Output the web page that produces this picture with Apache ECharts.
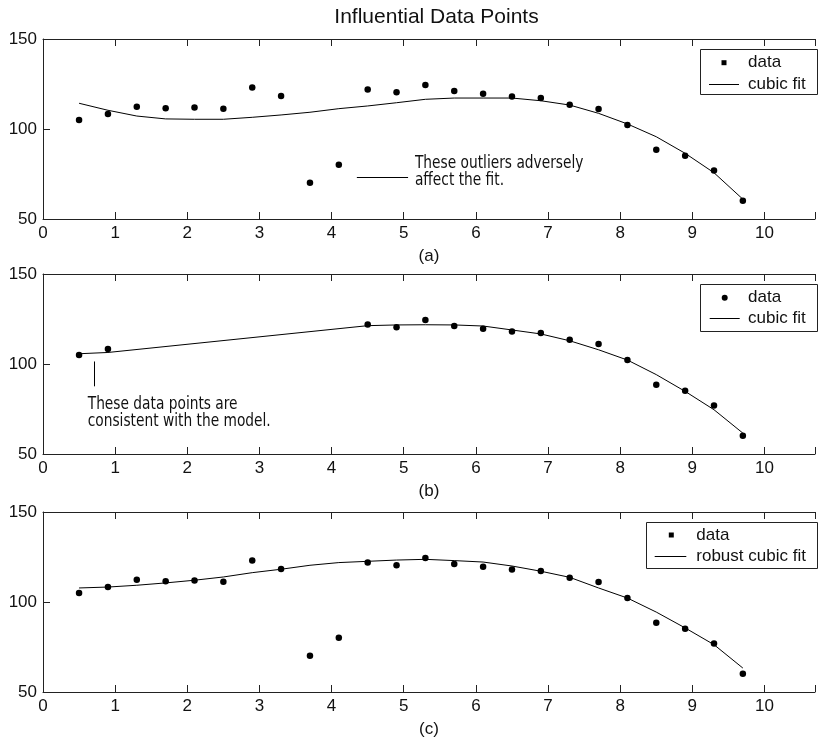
<!DOCTYPE html>
<html><head><meta charset="utf-8">
<script src="https://cdn.jsdelivr.net/npm/echarts@6/dist/echarts.min.js"></script>
<style>html,body{margin:0;padding:0;background:#fff}#c{width:818px;height:741px}</style>
</head><body><div id="c"></div>
<script>
// ---- data ----
const xAll = [0.5,0.9,1.3,1.7,2.1,2.5,2.9,3.3,3.7,4.1,4.5,4.9,5.3,5.7,6.1,6.5,6.9,7.3,7.7,8.1,8.5,8.9,9.3,9.7];
const yAll = [105,108.3,112.4,111.5,112,111.3,123,118.3,70.2,80.2,122,120.4,124.4,121.1,119.6,118.1,117.2,113.5,111.1,102.2,88.5,85.2,76.9,60.2];
const fitA = [114.3,110.4,107.2,105.6,105.4,105.4,106.5,107.8,109.3,111.3,112.8,114.6,116.5,117.2,117.2,117.2,115.7,113.3,108.7,102.8,95.7,86.5,75.7,61];
const xB = [0.5,0.9,4.5,4.9,5.3,5.7,6.1,6.5,6.9,7.3,7.7,8.1,8.5,8.9,9.3,9.7];
const yB = [105,108.3,122,120.4,124.4,121.1,119.6,118.1,117.2,113.5,111.1,102.2,88.5,85.2,76.9,60.2];
const fitB = [105.7,106.4,121.3,121.7,121.8,121.7,121.1,118.9,116.7,112.9,107.9,102.2,94.1,84.8,74.6,61.6];
const fitC = [107.8,108.3,109.3,110.6,112.1,113.9,116.3,118.2,120.4,121.9,122.6,123.3,123.7,123,122.2,120,117.1,113.7,107.8,102.2,94.4,85.6,76.3,63.3];
const panelLabels = ['(a)','(b)','(c)'];
const legendTexts = [['data','cubic fit'],['data','cubic fit'],['data','robust cubic fit']];
const titleText = 'Influential Data Points';
const noteA = ['These outliers adversely','affect the fit.'];
const noteB = ['These data points are','consistent with the model.'];
const xMin = 0, xMax = 10.7, yMin = 50, yMax = 150;

const zip = (xs, ys) => xs.map((x, i) => [x, ys[i]]);
const FONT = "'Liberation Sans', Arial, sans-serif";
const NARROW = "'Liberation Sans Narrow', 'DejaVu Sans Condensed', 'Roboto Condensed', sans-serif";
const AX = '#222';
const tops = [39, 274, 512];

const grids = tops.map(t => ({left: 43, right: -9, top: t, height: 180, containLabel: false}));
const xAxes = [], yAxes = [];
tops.forEach((t, i) => {
  xAxes.push({
    gridIndex: i, type: 'value', position: 'bottom', min: xMin, max: xMax, interval: 1,
    axisLine: {show: true, onZero: false, lineStyle: {color: AX, width: 1}},
    axisTick: {show: true, inside: true, length: 7, lineStyle: {color: AX}},
    axisLabel: {show: true, margin: 6, fontSize: 17, color: '#111', fontFamily: FONT,
      formatter: v => Math.abs(v - Math.round(v)) < 1e-6 && v <= 10 ? String(Math.round(v)) : ''},
    splitLine: {show: false},
    name: panelLabels[i], nameLocation: 'middle', nameGap: 29,
    nameTextStyle: {fontSize: 17, color: '#111', fontFamily: FONT}
  });
  xAxes.push({
    gridIndex: i, type: 'value', position: 'top', min: xMin, max: xMax, interval: 1,
    axisLine: {show: true, onZero: false, lineStyle: {color: AX, width: 1}},
    axisTick: {show: true, inside: true, length: 7, lineStyle: {color: AX}},
    axisLabel: {show: false}, splitLine: {show: false}
  });
  yAxes.push({
    gridIndex: i, type: 'value', min: yMin, max: yMax, interval: 50,
    axisLine: {show: true, onZero: false, lineStyle: {color: AX, width: 1}},
    axisTick: {show: true, inside: true, length: 7, lineStyle: {color: AX}},
    axisLabel: {show: true, margin: 6, fontSize: 17, color: '#111', fontFamily: FONT},
    splitLine: {show: false}
  });
});

const scat = (xi, yi, data) => ({type: 'scatter', xAxisIndex: xi, yAxisIndex: yi, data,
  symbol: 'circle', symbolSize: 6.5, itemStyle: {color: '#000', opacity: 1}, silent: true, z: 3});
const line = (xi, yi, data) => ({type: 'line', xAxisIndex: xi, yAxisIndex: yi, data,
  symbol: 'none', lineStyle: {color: '#000', width: 1}, silent: true, z: 2});

const series = [
  scat(0, 0, zip(xAll, yAll)), line(0, 0, zip(xAll, fitA)),
  scat(2, 1, zip(xB, yB)), line(2, 1, zip(xB, fitB)),
  scat(4, 2, zip(xAll, yAll)), line(4, 2, zip(xAll, fitC))
];

const chart = echarts.init(document.getElementById('c'), null, {renderer: 'canvas'});
chart.setOption({animation: false, backgroundColor: '#fff', grid: grids, xAxis: xAxes, yAxis: yAxes, series});

// ---- graphics: title, legends, annotations ----
const g = [];
const txt = (text, x, y, font, align, sx) => ({type: 'text', silent: true, x, y, scaleX: sx || 1,
  style: {text, x: 0, y: 0, font, fill: '#111', align: align || 'left', verticalAlign: 'middle',
    textAlign: align || 'left', textVerticalAlign: 'middle'}});
g.push(txt(titleText, 436.5, 17, "21px " + FONT, 'center'));

// legends (positions in px)
const legends = [
  {x: 700, y: 49, w: 117, h: 45, mx: 724, tx: 748, r1: 62.7, r2: 84.3, lx1: 709, lx2: 739, sq: true},
  {x: 700, y: 284, w: 117, h: 47, mx: 724.7, tx: 748, r1: 297.7, r2: 318.3, lx1: 709.7, lx2: 739.7, sq: false},
  {x: 646, y: 522, w: 171, h: 46, mx: 671.3, tx: 696.3, r1: 535, r2: 556, lx1: 654.7, lx2: 686.3, sq: true}
];
legends.forEach((L, i) => {
  g.push({type: 'rect', silent: true, shape: {x: L.x + 0.5, y: L.y + 0.5, width: L.w, height: L.h},
    style: {fill: '#fff', stroke: AX, lineWidth: 1}});
  if (L.sq) g.push({type: 'rect', silent: true, shape: {x: L.mx - 2.5, y: L.r1 - 2.5, width: 5, height: 5}, style: {fill: '#000'}});
  else g.push({type: 'circle', silent: true, shape: {cx: L.mx, cy: L.r1, r: 3}, style: {fill: '#000'}});
  g.push(txt(legendTexts[i][0], L.tx, L.r1, "17px " + FONT));
  g.push({type: 'line', silent: true, shape: {x1: L.lx1, y1: Math.round(L.r2) + 0.5, x2: L.lx2, y2: Math.round(L.r2) + 0.5},
    style: {stroke: '#000', lineWidth: 1}});
  g.push(txt(legendTexts[i][1], L.tx, L.r2, "17px " + FONT));
});

// annotations positioned in data coordinates
const SX = 0.85;
const pA1 = chart.convertToPixel({seriesIndex: 1}, [4.35, 73.5]);
const pA2 = chart.convertToPixel({seriesIndex: 1}, [5.06, 73.5]);
g.push({type: 'line', silent: true, shape: {x1: pA1[0], y1: Math.round(pA1[1]) + 0.5, x2: pA2[0], y2: Math.round(pA2[1]) + 0.5},
  style: {stroke: '#000', lineWidth: 1}});
const tA1 = chart.convertToPixel({seriesIndex: 1}, [5.155, 80.9]);
const tA2 = chart.convertToPixel({seriesIndex: 1}, [5.155, 71.7]);
g.push(txt(noteA[0], tA1[0], tA1[1], "18px " + NARROW, 'left', SX));
g.push(txt(noteA[1], tA2[0], tA2[1], "18px " + NARROW, 'left', SX));

const pB1 = chart.convertToPixel({seriesIndex: 3}, [0.71, 101.4]);
const pB2 = chart.convertToPixel({seriesIndex: 3}, [0.71, 87.6]);
g.push({type: 'line', silent: true, shape: {x1: Math.round(pB1[0]) + 0.5, y1: pB1[1], x2: Math.round(pB2[0]) + 0.5, y2: pB2[1]},
  style: {stroke: '#000', lineWidth: 1}});
const tB1 = chart.convertToPixel({seriesIndex: 3}, [0.62, 77.4]);
const tB2 = chart.convertToPixel({seriesIndex: 3}, [0.62, 68.1]);
g.push(txt(noteB[0], tB1[0], tB1[1], "18px " + NARROW, 'left', SX));
g.push(txt(noteB[1], tB2[0], tB2[1], "18px " + NARROW, 'left', SX));

chart.setOption({graphic: g});
</script></body></html>
